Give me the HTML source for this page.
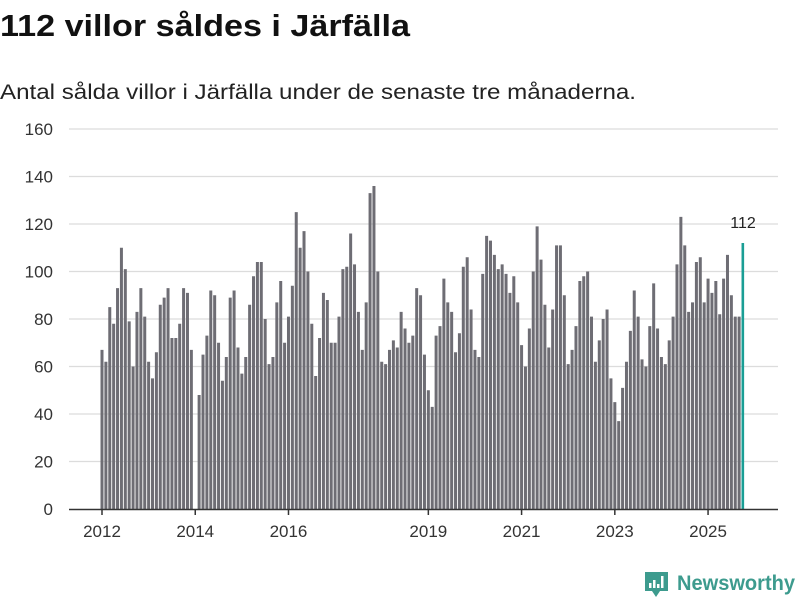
<!DOCTYPE html>
<html><head><meta charset="utf-8"><style>
body{margin:0;background:#fff;width:800px;height:600px;overflow:hidden;font-family:"Liberation Sans","DejaVu Sans",sans-serif}
</style></head><body>
<svg id="chart" width="800" height="600" xmlns="http://www.w3.org/2000/svg">
<text x="0" y="36" font-size="31" font-weight="bold" fill="#111" textLength="410" lengthAdjust="spacingAndGlyphs">112 villor såldes i Järfälla</text>
<text x="0" y="99" font-size="21" fill="#222" textLength="636" lengthAdjust="spacingAndGlyphs">Antal sålda villor i Järfälla under de senaste tre månaderna.</text>
<g id="grid"></g>
<g id="bars"></g>
<g id="axes"></g>
<g>
<path d="M645 572h23v19h-8l-4 6-4-6h-7z" fill="#3d9b8e"/>
<rect x="649" y="583" width="2.5" height="5" fill="#fff"/><rect x="653" y="580" width="2.5" height="8" fill="#fff"/><rect x="657" y="584" width="2.5" height="4" fill="#fff"/><rect x="661" y="576" width="2.5" height="12" fill="#fff"/>
<text x="677" y="590" font-size="21" font-weight="bold" fill="#3d9b8e" textLength="118" lengthAdjust="spacingAndGlyphs">Newsworthy</text>
</g>
</svg>
<script>
const values = [67,62,85,78,93,110,101,79,60,83,93,81, 62,55,66,86,89,93,72,72,78,93,91,67,
0,48,65,73,92,90,70,54,64,89,92,68,57, 64,86,98,104,104,80,61,64,87,96,70,81,
94,125,110,117,100,78,56,72,91,88,70,70, 81,101,102,116,103,83,67,87,133,136,100,62,
61,67,71,68,83,76,70,73,93,90,65,50, 43,73,77,97,87,83,66,74,102,106,84,67,
64,99,115,113,107,101,103,99,91,98,87,69, 60,76,100,119,105,86,68,84,111,111,90,61,
67,77,96,98,100,81,62,71,80,84,55,45, 37,51,62,75,92,81,63,60,77,95,76,64,
61,71,81,103,123,111,83,87,104,106,87,97, 91,96,82,97,107,90,81,81,112];
const startYear = 2012, startMonth = 0;
const yTicks = [0,20,40,60,80,100,120,140,160];
const xTickYears = [2012,2014,2016,2019,2021,2023,2025];
const NS='http://www.w3.org/2000/svg';
const x0=102, step=3.885, plotL=69, plotR=778;
const xs = i => x0 + i*step;
const ys = v => 509 - v*2.375;
function mk(tag, attrs, parent){const e=document.createElementNS(NS,tag);for(const k in attrs)e.setAttribute(k,attrs[k]);parent.appendChild(e);return e;}
const grid=document.getElementById('grid'), bars=document.getElementById('bars'), axes=document.getElementById('axes');
yTicks.forEach(t=>{
  if(t>0){const l=mk('line',{x1:plotL,x2:plotR,y1:ys(t),y2:ys(t),stroke:'#dcdcdc','stroke-width':1.2},grid);
  
  }
  const tx=mk('text',{x:53,y:ys(t)+6,'text-anchor':'end','font-size':17,fill:'#333'},axes);
  tx.textContent=t;
  
  
});
values.forEach((v,i)=>{
  const last=i===values.length-1;
  const r=mk('rect',{x:xs(i)-1.5,y:ys(v),width:last?2.6:3,height:ys(0)-ys(v),fill:last?'#1a9e95':'#6e6d74'},bars);
  
  
  if(last){const lb=mk('text',{x:xs(i)-0,y:ys(v)-15,'text-anchor':'middle','font-size':16,fill:'#222'},axes);
  lb.textContent=v;
  
  }
});
const ax=mk('line',{x1:plotL,x2:plotR,y1:509.5,y2:509.5,stroke:'#333','stroke-width':1.5},axes);


xTickYears.forEach(yr=>{
  const i=(yr-startYear)*12-startMonth, x=xs(i);
  const tk=mk('line',{x1:x,x2:x,y1:509,y2:515,stroke:'#333','stroke-width':1.5},axes);
  
  
  const t=mk('text',{x:x,y:537,'text-anchor':'middle','font-size':17,fill:'#333'},axes);
  t.textContent=yr;
  
  
});
</script>
</body></html>
